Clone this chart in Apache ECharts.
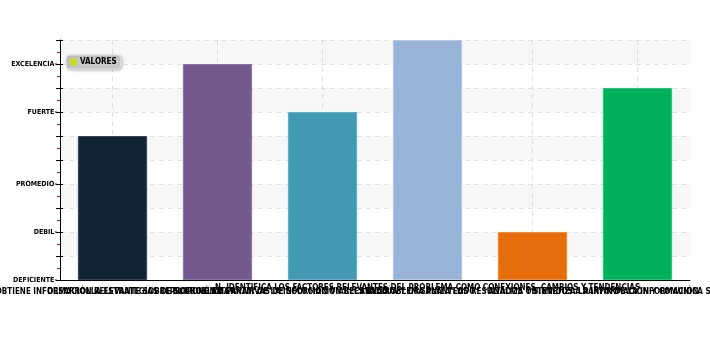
<!DOCTYPE html>
<html>
<head>
<meta charset="utf-8">
<script src="https://cdn.jsdelivr.net/npm/echarts@6/dist/echarts.min.js"></script>
<style>html,body{margin:0;padding:0;background:#fff}#c{width:710px;height:360px}</style>
</head>
<body>
<div id="c"></div>
<script>
var categories = [
  "OBTIENE INFORMACIÓN RELEVANTE SOBRE EL PROBLEMA",
  "DESARROLLA ESTRATEGIAS DE SOLUCIÓN A PARTIR DE LA INFORMACIÓN RECABADA",
  "PROPONE ALTERNATIVAS DE SOLUCIÓN VIABLES AL PROBLEMA PLANTEADO",
  "N. IDENTIFICA LOS FACTORES RELEVANTES DEL PROBLEMA COMO CONEXIONES, CAMBIOS Y TENDENCIAS",
  "EVALÚA Y ORGANIZA LOS RESULTADOS OBTENIDOS A PARTIR DE LA INFORMACIÓN",
  "ANALIZA Y SINTETIZA LA INFORMACIÓN Y COMUNICA SUS CONCLUSIONES"
];
var values = [6, 9, 7, 10, 2, 8];
var barColors = ["#112537", "#725a8f", "#4399b2", "#97b3d7", "#e66d0c", "#00b05a"];
var barBorders = ["#34475a", "#8a74a5", "#5cb0c8", "#b3c9e6", "#f58a2e", "#25c775"];
var levelLabels = { 0: "DEFICIENTE", 2: "DEBIL", 4: "PROMEDIO", 7: "FUERTE", 9: "EXCELENCIA" };
var seriesName = "VALORES";

var FONT = "DejaVu Sans Condensed";
var chart = echarts.init(document.getElementById('c'), null, { renderer: 'canvas' });

var catData = categories.map(function (c, i) {
  if (i === 3) return { value: c, textStyle: { verticalAlign: 'middle' } };
  return c;
});
var helperCats = [];
for (var k = 0; k <= 12; k++) helperCats.push(String(k));

chart.setOption({
  animation: false,
  grid: { left: 60, right: 20, top: 40, bottom: 80, containLabel: false, outerBoundsMode: 'none' },
  legend: {
    left: 66, top: 55,
    data: [seriesName],
    itemWidth: 7, itemHeight: 7, itemGap: 4,
    icon: 'rect',
    backgroundColor: '#c8c8c8',
    borderColor: '#e6e6e6', borderWidth: 1, borderRadius: 4,
    padding: [3, 4, 3, 4],
    shadowColor: 'rgba(0,0,0,0.25)', shadowBlur: 3, shadowOffsetX: 1, shadowOffsetY: 1,
    textStyle: { fontFamily: FONT, fontSize: 8, fontWeight: 'bold', color: '#000', padding: [0, 0, 0, -2] }
  },
  xAxis: [{
    type: 'category',
    data: catData,
    axisLine: { lineStyle: { color: '#000', width: 1 } },
    axisTick: { alignWithLabel: true, length: 4, lineStyle: { color: '#000' } },
    axisLabel: { interval: 0, margin: 8, fontFamily: FONT, fontSize: 8, fontWeight: 'bold', color: '#000', hideOverlap: false },
    splitLine: { show: false }
  }, {
    type: 'category',
    data: helperCats,
    boundaryGap: false,
    position: 'bottom',
    axisLine: { show: false }, axisTick: { show: false }, axisLabel: { show: false },
    splitLine: { show: true, interval: function (i) { return i % 2 === 1; }, lineStyle: { color: '#dedede', type: [5, 4] } }
  }],
  yAxis: [{
    type: 'value', min: 0, max: 10, interval: 1,
    axisLine: { show: true, lineStyle: { color: '#000', width: 1 } },
    axisTick: { show: true, length: 4, lineStyle: { color: '#000' } },
    minorTick: { show: true, splitNumber: 2, length: 3, lineStyle: { color: '#ff0000' } },
    axisLabel: {
      margin: 3, fontFamily: FONT, fontSize: 7, fontWeight: 'bold', color: '#000',
      formatter: function (v) { return levelLabels[v] !== undefined ? levelLabels[v] + '-' : ''; }
    },
    splitLine: { show: true, lineStyle: { color: '#e2e2e2', type: [5, 4] } },
    splitArea: { show: true, areaStyle: { color: ['#ffffff', '#f7f7f7'] } }
  }, {
    type: 'value', min: 0, max: 10, interval: 1, position: 'left', offset: 0,
    axisLine: { show: false },
    axisTick: { show: true, inside: true, length: 3, lineStyle: { color: '#000' } },
    axisLabel: { show: false }, splitLine: { show: false }
  }],
  series: [{
    name: seriesName,
    type: 'bar',
    xAxisIndex: 0, yAxisIndex: 0,
    barWidth: '66%',
    itemStyle: { color: '#c3dc1e' },
    data: values.map(function (v, i) {
      return { value: v, itemStyle: { color: barColors[i], borderColor: barBorders[i], borderWidth: 1 } };
    })
  }]
});
</script>
</body>
</html>
